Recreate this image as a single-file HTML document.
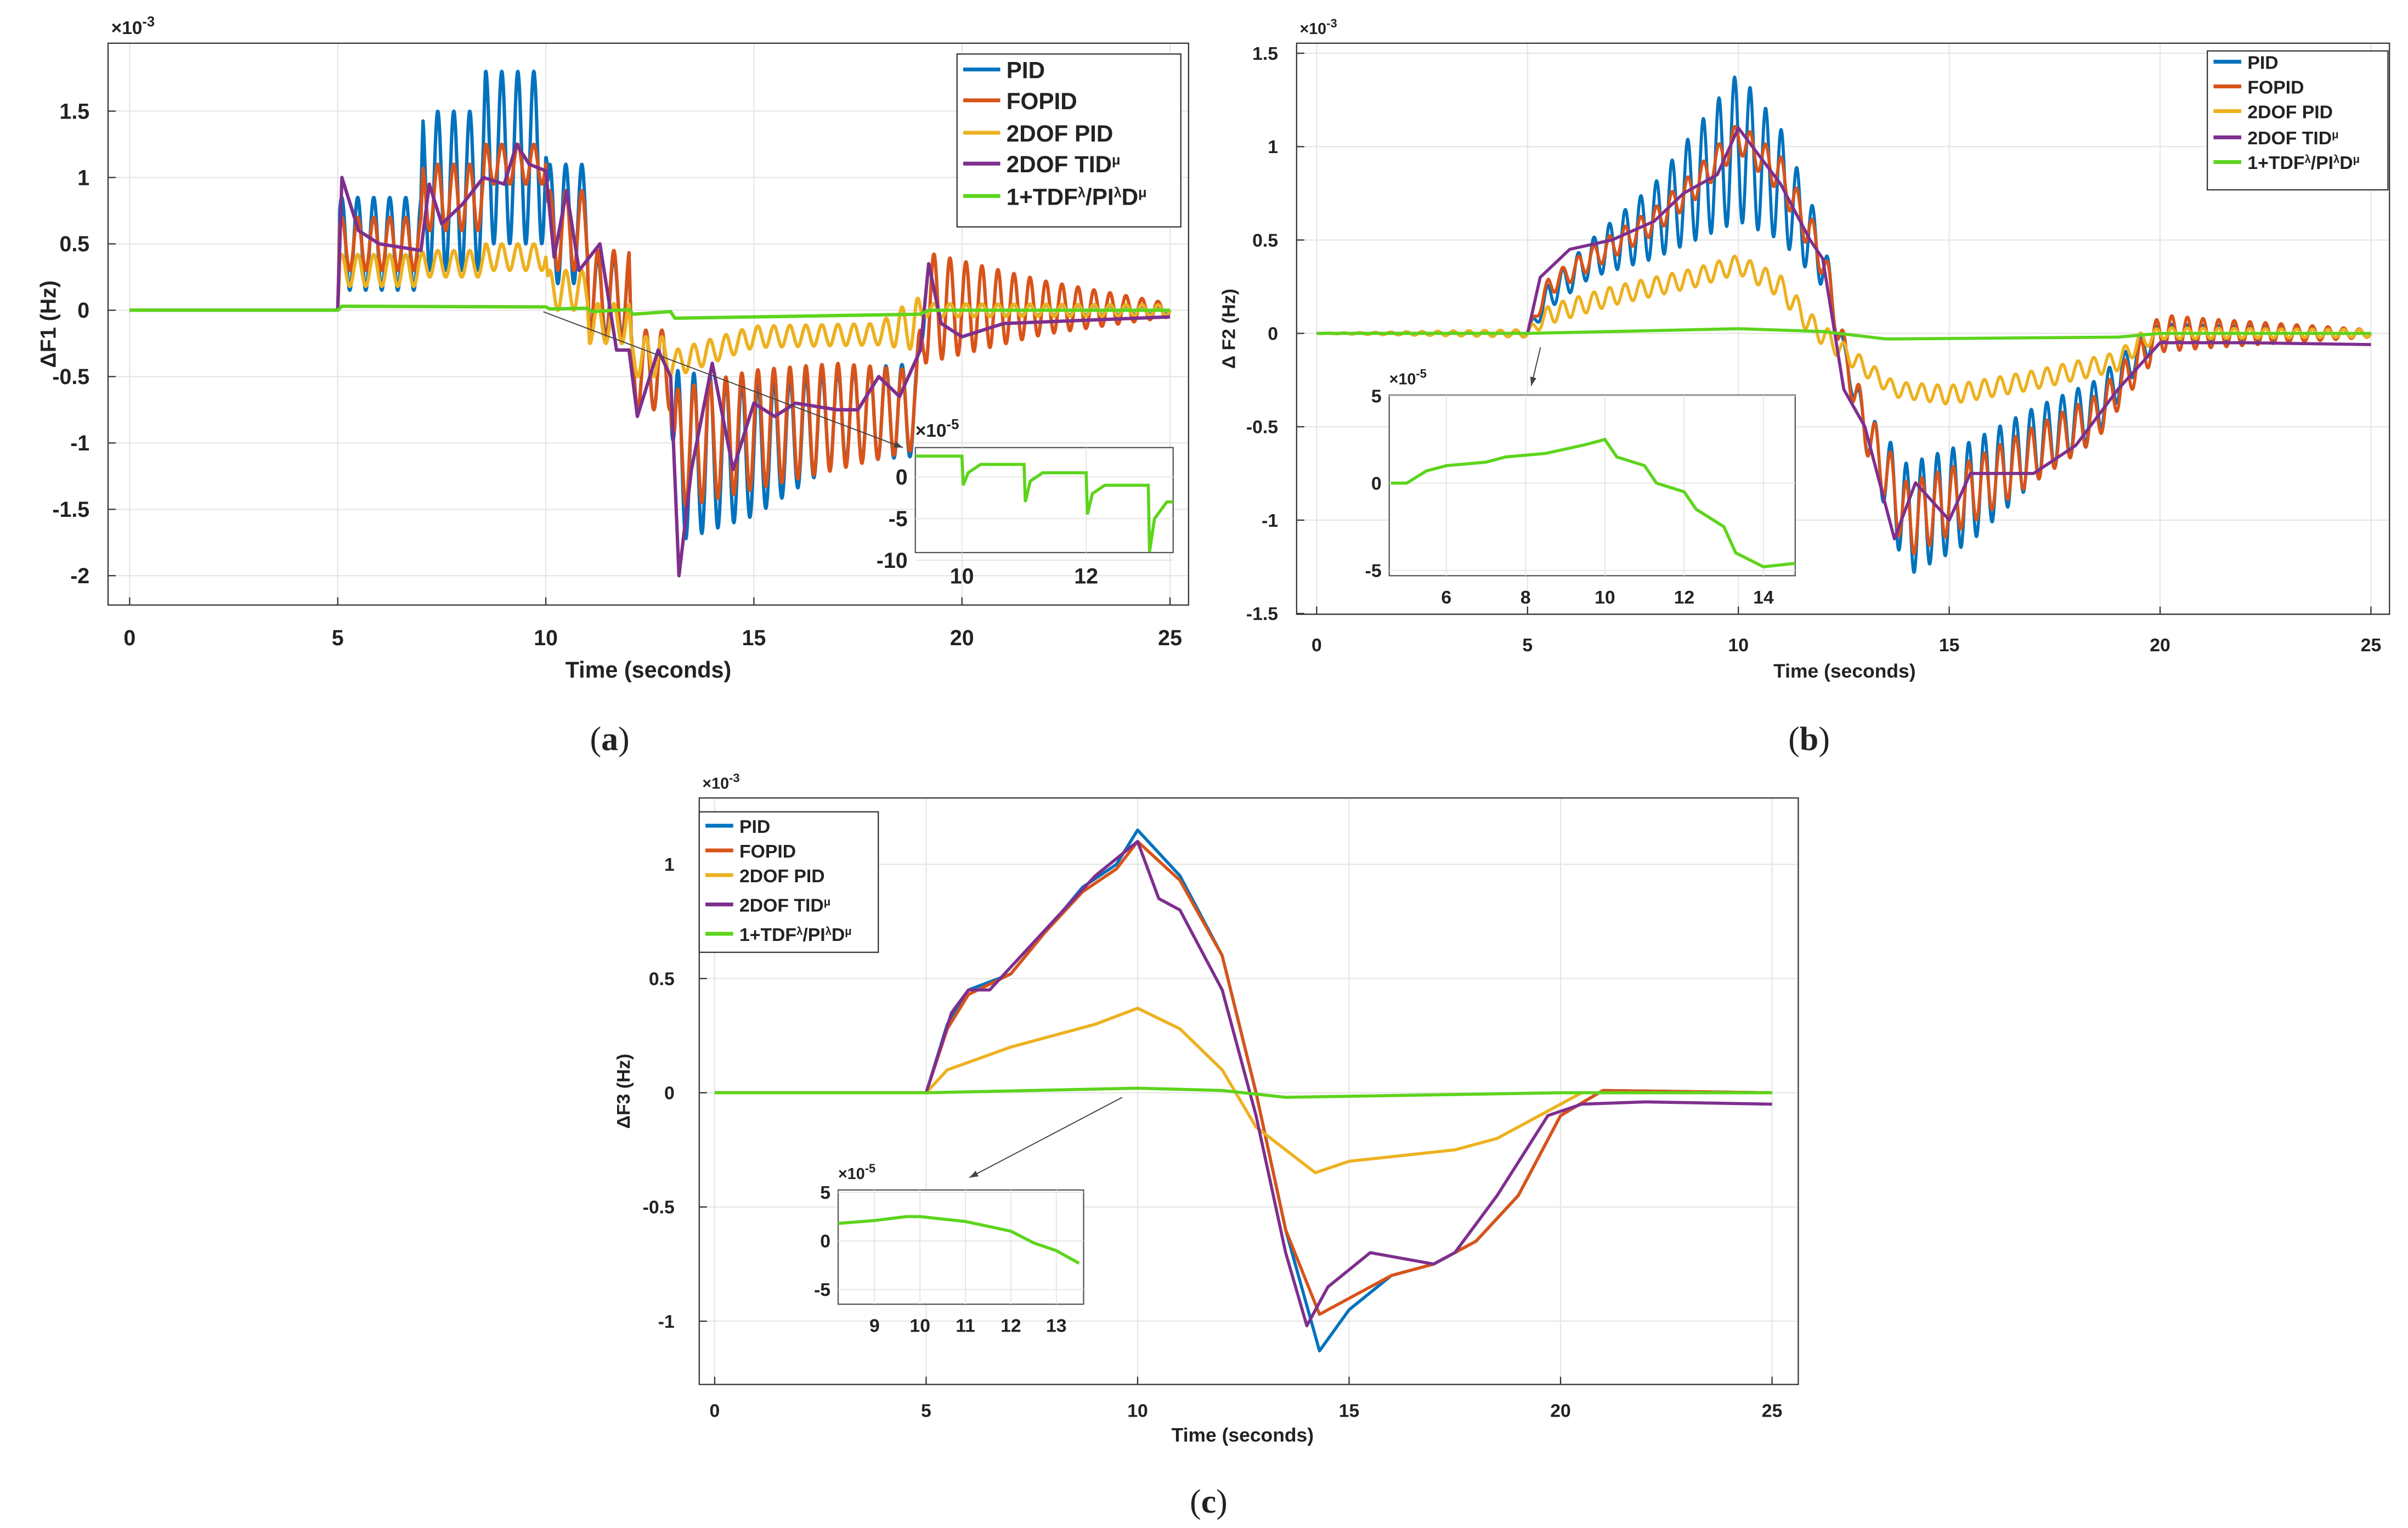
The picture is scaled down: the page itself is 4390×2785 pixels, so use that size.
<!DOCTYPE html>
<html><head><meta charset="utf-8"><style>
html,body{margin:0;padding:0;background:#fff}
svg{display:block}
text{font-family:"Liberation Sans","DejaVu Sans",sans-serif;font-weight:bold;fill:#222}
</style></head><body>
<svg id="fig" width="4390" height="2785" viewBox="0 0 1560 990" preserveAspectRatio="none" xmlns="http://www.w3.org/2000/svg"></svg>
<script>
// ---------------- DATA ----------------
const colors = {PID:'#0072BD',FOPID:'#D95319',DPID:'#EDB120',TID:'#7E2F8E',TDF:'#5DD41C'};
// Panel (a) values x1e-3 : [time], [base], [oscillation amplitude]
const aPID_t=[0,5,5.05,7,7.05,8.5,8.55,10,10.05,11,11.05,12,12.05,13,13.1,15,17,18.9,19.1,25];
const aPID_b=[0,0,0.5,0.5,0.9,0.9,1.15,1.15,0.65,0.65,0.1,0.1,-0.45,-0.45,-1.1,-1.05,-0.8,-0.75,0,0];
const aPID_a=[0,0,0.35,0.35,0.6,0.6,0.65,0.65,0.45,0.45,0.3,0.3,0.3,0.3,0.65,0.5,0.35,0.35,0.05,0.03];
const aFO_t=[0,5,5.05,7,7.05,8.5,8.55,10,10.05,11,11.05,12,12.05,13,13.1,15,17,18.9,19.1,22,25];
const aFO_b=[0,0,0.5,0.5,0.85,0.85,1.1,1.1,0.6,0.6,0.1,0.1,-0.45,-0.45,-1.05,-0.9,-0.8,-0.75,0.02,0.02,0];
const aFO_a=[0,0,0.2,0.2,0.25,0.25,0.15,0.15,0.3,0.3,0.35,0.35,0.3,0.3,0.45,0.45,0.4,0.3,0.42,0.2,0.05];
const aDP_t=[0,5,5.05,7,7.05,8.5,8.55,10,10.05,11,11.05,12,12.05,13,13.1,15,18,18.9,19.1,25];
const aDP_b=[0,0,0.3,0.3,0.35,0.35,0.4,0.4,0.15,0.15,-0.1,-0.1,-0.35,-0.35,-0.4,-0.2,-0.18,-0.1,0,0];
const aDP_a=[0,0,0.12,0.12,0.1,0.1,0.1,0.1,0.15,0.15,0.15,0.15,0.15,0.15,0.1,0.08,0.08,0.2,0.05,0.04];
const aTID_t=[0,5,5.1,5.5,6,7,7.2,7.5,8,8.5,9,9.3,9.6,10,10.2,10.5,10.8,11.3,11.7,12,12.2,12.7,13,13.2,13.5,14,14.5,15,15.5,16,17,17.5,18,18.5,19,19.2,19.5,20,21,25];
const aTID_v=[0,0,1.0,0.6,0.5,0.45,0.95,0.65,0.8,1.0,0.95,1.25,1.1,1.05,0.4,0.9,0.3,0.5,-0.3,-0.3,-0.8,-0.3,-0.5,-2.0,-1.2,-0.4,-1.2,-0.7,-0.8,-0.7,-0.75,-0.75,-0.5,-0.65,-0.3,0.35,-0.1,-0.2,-0.1,-0.05];
const aTDF_t=[0,5,5.1,10,10.1,11,11.1,12,12.1,13,13.1,19,19.2,25];
const aTDF_v=[0,0,0.03,0.025,0.01,0.015,-0.01,0.005,-0.03,-0.01,-0.06,-0.03,0,0];
// Panel (b)
const bPID_t=[0,5,5.5,6.5,8,9,10,11,12,12.5,13,14,15.5,17,18.5,19.5,20,25];
const bPID_b=[0,0,0.2,0.4,0.6,0.8,1.0,0.8,0.4,-0.1,-0.5,-1.0,-0.85,-0.6,-0.4,-0.1,0,0];
const bPID_a=[0,0.02,0.07,0.1,0.2,0.3,0.4,0.3,0.15,0.05,0.1,0.3,0.27,0.2,0.15,0.08,0.05,0.02];
const bFO_t=[0,5,5.5,6.5,8,9,10,11,12,12.5,13,14,15.5,17,18.5,19.5,20,21,25];
const bFO_b=[0,0,0.25,0.4,0.6,0.8,1.05,0.85,0.4,-0.1,-0.5,-1.0,-0.85,-0.65,-0.45,-0.15,0,0,0];
const bFO_a=[0,0.02,0.05,0.06,0.07,0.08,0.08,0.1,0.1,0.1,0.12,0.2,0.17,0.15,0.12,0.1,0.1,0.08,0.02];
const bDP_t=[0,5,5.5,7,9,10,11,11.7,12.5,13.7,15,17,19,19.5,20,25];
const bDP_b=[0,0,0.1,0.2,0.3,0.37,0.25,0.05,-0.1,-0.3,-0.33,-0.25,-0.15,-0.05,0,0];
const bDP_a=[0,0.02,0.05,0.05,0.05,0.05,0.06,0.06,0.05,0.04,0.05,0.05,0.05,0.05,0.03,0.02];
const bTID_t=[0,5,5.3,6,7,8,8.7,9.5,10,11,11.7,12,12.5,13,13.7,14.2,15,15.5,17,18,19,20,22,25];
const bTID_v=[0,0,0.3,0.45,0.5,0.6,0.75,0.85,1.1,0.8,0.5,0.4,-0.3,-0.5,-1.1,-0.8,-1.0,-0.75,-0.75,-0.6,-0.3,-0.05,-0.05,-0.06];
const bTDF_t=[0,5,10,12,13.5,19,20,25];
const bTDF_v=[0,0,0.025,0.01,-0.03,-0.02,0,0];
// Panel (c)
const cPID_t=[0,5,5.5,6,7,7.8,8.7,9.5,10,11,12,12.8,13.5,14.3,15,16,17,18,19,20,21,25];
const cPID_v=[0,0,0.3,0.45,0.52,0.7,0.9,1.0,1.15,0.95,0.6,0,-0.6,-1.13,-0.95,-0.8,-0.75,-0.65,-0.45,-0.1,0.01,0];
const cFO_t=[0,5,5.5,6,7,7.8,8.7,9.5,10,11,12,12.8,13.5,14.3,15,16,17,18,19,20,21,25];
const cFO_v=[0,0,0.28,0.43,0.52,0.7,0.88,0.98,1.1,0.93,0.6,0,-0.6,-0.97,-0.9,-0.8,-0.75,-0.65,-0.45,-0.1,0.01,0];
const cDP_t=[0,5,5.5,7,9,10,11,12,12.8,14.2,15,17.5,18.5,19.5,20.5,25];
const cDP_v=[0,0,0.1,0.2,0.3,0.37,0.28,0.1,-0.15,-0.35,-0.3,-0.25,-0.2,-0.1,0,0];
const cTID_t=[0,5,5.6,6,6.5,7,8,9,10,10.5,11,12,12.8,13.5,14,14.5,15.5,17,17.5,18.5,19.7,20.5,22,25];
const cTID_v=[0,0,0.35,0.45,0.45,0.55,0.75,0.95,1.1,0.85,0.8,0.45,-0.1,-0.7,-1.02,-0.85,-0.7,-0.75,-0.7,-0.45,-0.1,-0.05,-0.04,-0.05];
const cTDF_t=[0,5,10,12,13.5,20,25];
const cTDF_v=[0,0,0.02,0.01,-0.02,0,0];
// Insets (x1e-5)
const iaT=[9.25,10,10.02,10.1,10.3,11,11.02,11.1,11.3,12,12.02,12.1,12.3,13,13.02,13.1,13.3,13.4];
const iaV=[2.5,2.5,-1,0.5,1.5,1.5,-3,-0.5,0.5,0.5,-4.5,-2,-1,-1,-9,-5,-3,-3];
const ibT=[4.6,5,5.5,6,7,7.5,8.5,9.5,10,10.3,11,11.3,12,12.3,13,13.3,14,14.8];
const ibV=[0,0,0.7,1,1.2,1.5,1.7,2.2,2.5,1.5,1,0,-0.5,-1.5,-2.5,-4,-4.8,-4.6];
const icT=[8.2,9,9.7,10,11,12,12.5,13,13.5];
const icV=[1.8,2.1,2.5,2.5,2,1,-0.2,-1,-2.3];
const legendLabels=['PID','FOPID','2DOF PID','2DOF TID^μ','1+TDF^λ/PI^λD^μ'];
const xTicks=[0,5,10,15,20,25];
const aYTicks=[1.5,1,0.5,0,-0.5,-1,-1.5,-2];
const bYTicks=[1.5,1,0.5,0,-0.5,-1,-1.5];
const cYTicks=[1,0.5,0,-0.5,-1];

// ---------------- DRAW ----------------
const NS='http://www.w3.org/2000/svg';
const svg=document.getElementById('fig');
function el(tag,attrs,parent){const e=document.createElementNS(NS,tag);for(const k in attrs)e.setAttribute(k,attrs[k]);(parent||svg).appendChild(e);return e;}
function interp(T,V,t){if(t<=T[0])return V[0];for(let i=1;i<T.length;i++){if(t<=T[i]){const f=(t-T[i-1])/((T[i]-T[i-1])||1);return V[i-1]+f*(V[i]-V[i-1]);}}return V[V.length-1];}
function supHTML(lab,fs){return lab.replace(/\^(.)/g,(m,c)=>'<tspan baseline-shift="super" font-size="'+(fs*0.6)+'">'+c+'</tspan>');}
function makePanel(P){
  const g=el('g',{});
  
  
  const sx=t=>P.x0+(t-P.xmin)*(P.x1-P.x0)/(P.xmax-P.xmin);
  const sy=v=>P.y0-v*P.yu;
  xTicks.forEach(t=>{const l=el('line',{x1:sx(t),x2:sx(t),y1:P.top,y2:P.bot,stroke:'#e6e6e6','stroke-width':0.8},g);});
  P.yt.forEach(v=>{const l=el('line',{x1:P.left,x2:P.right,y1:sy(v),y2:sy(v),stroke:'#e6e6e6','stroke-width':0.8},g);});
  const box=el('rect',{x:P.left,y:P.top,width:P.right-P.left,height:P.bot-P.top,fill:'none',stroke:'#333','stroke-width':0.8},g);
  
  xTicks.forEach(t=>{const tx=el('text',{x:sx(t),y:P.xly,'font-size':P.fs,'text-anchor':'middle'},g);tx.textContent=t;
    el('line',{x1:sx(t),x2:sx(t),y1:P.bot,y2:P.bot-5,stroke:'#333','stroke-width':0.8},g);});
  P.yt.forEach(v=>{const tx=el('text',{x:P.yly,y:sy(v)+P.fs*0.35,'font-size':P.fs,'text-anchor':'end'},g);tx.textContent=v;
    el('line',{x1:P.left,x2:P.left+5,y1:sy(v),y2:sy(v),stroke:'#333','stroke-width':0.8},g);});
  const ex=el('text',{x:P.left+2,y:P.top-6,'font-size':P.fs*0.85},g);ex.innerHTML='×10<tspan baseline-shift="super" font-size="'+P.fs*0.65+'">-3</tspan>';
  
  const xl=el('text',{x:P.xlx,y:P.xlt,'font-size':P.fs*1.05,'text-anchor':'middle'},g);xl.textContent='Time (seconds)';
  
  const yl=el('text',{x:0,y:0,'font-size':P.fs*1.0,'text-anchor':'middle',transform:`translate(${P.ylx},${(P.top+P.bot)/2}) rotate(-90)`},g);yl.textContent=P.ylabel;
  
  const cap=el('text',{x:P.capx,y:P.capy,'font-size':22,'text-anchor':'middle',style:'font-family:"Liberation Serif",serif;font-weight:normal'},g);cap.innerHTML='(<tspan font-weight="bold">'+P.cap+'</tspan>)';
  
  const clip='clip-'+P.cap;
  const cp=el('clipPath',{id:clip},g);el('rect',{x:P.left,y:P.top,width:P.right-P.left,height:P.bot-P.top},cp);
  P.series.forEach(s=>{
    let d='';
    for(let t=0;t<=25.0001;t+=0.01){
      let v=interp(s.t,s.v,t);
      if(s.a){const A=interp(s.t,s.a,t);v+=A*Math.sin(2*Math.PI*P.freq*(t-5));}
      d+=(d?'L':'M')+sx(t).toFixed(2)+','+sy(v).toFixed(2);
    }
    const p=el('path',{d:d,fill:'none',stroke:s.c,'stroke-width':P.lw,'stroke-linejoin':'round','clip-path':`url(#${clip})`},g);
    
  });
  const L=P.leg;
  const lg=el('g',{},g);
  el('rect',{x:L.x,y:L.y,width:L.w,height:L.h,fill:'#fff',stroke:'#333','stroke-width':0.8},lg);
  const cs=[colors.PID,colors.FOPID,colors.DPID,colors.TID,colors.TDF];
  legendLabels.forEach((lab,i)=>{
    const yy=L.ys[i];
    const ln=el('line',{x1:L.x+4,x2:L.x+4+L.ll,y1:yy,y2:yy,stroke:cs[i],'stroke-width':2.5},lg);
    
    const tx=el('text',{x:L.x+8+L.ll,y:yy+L.fs*0.38,'font-size':L.fs},lg);tx.innerHTML=supHTML(lab,L.fs);
    
  });
  const I=P.inset;
  const ig=el('g',{},g);
  const ar=el('line',{x1:I.ax1,y1:I.ay1,x2:I.ax2,y2:I.ay2,stroke:'#444','stroke-width':0.7},ig);
  const ang=Math.atan2(I.ay2-I.ay1,I.ax2-I.ax1);
  el('path',{d:`M${I.ax2},${I.ay2}L${I.ax2-6*Math.cos(ang-0.35)},${I.ay2-6*Math.sin(ang-0.35)}L${I.ax2-6*Math.cos(ang+0.35)},${I.ay2-6*Math.sin(ang+0.35)}Z`,fill:'#444'},ig);
  el('rect',{x:I.l,y:I.t,width:I.r-I.l,height:I.b-I.t,fill:'#fff',stroke:'#555','stroke-width':0.8},ig);
  const isx=t=>I.l+(t-I.xmin)*(I.r-I.l)/(I.xmax-I.xmin);
  const isy=v=>I.y0-v*I.yu;
  I.xt.forEach(t=>{el('line',{x1:isx(t),x2:isx(t),y1:I.t,y2:I.b,stroke:'#e6e6e6','stroke-width':0.7},ig);
    const tx=el('text',{x:isx(t),y:I.b+I.fs+6,'font-size':I.fs,'text-anchor':'middle'},ig);tx.textContent=t;});
  I.yt.forEach(v=>{el('line',{x1:I.l,x2:I.r,y1:isy(v),y2:isy(v),stroke:'#e6e6e6','stroke-width':0.7},ig);
    const tx=el('text',{x:I.l-5,y:isy(v)+I.fs*0.35,'font-size':I.fs,'text-anchor':'end'},ig);tx.textContent=v;});
  const iex=el('text',{x:I.l,y:I.t-7,'font-size':I.fs*0.85},ig);iex.innerHTML='×10<tspan baseline-shift="super" font-size="'+I.fs*0.65+'">-5</tspan>';
  let d='';for(let i=0;i<I.T.length;i++)d+=(i?'L':'M')+isx(I.T[i]).toFixed(2)+','+isy(I.V[i]).toFixed(2);
  const ip=el('path',{d:d,fill:'none',stroke:colors.TDF,'stroke-width':2},ig);
}

makePanel({name:'panel-a',cap:'a',left:70,right:770,top:28,bot:392,x0:84,x1:758,xmin:0,xmax:25,y0:201,yu:86,yt:aYTicks,fs:14,lw:2.2,freq:2.6,
  xly:418,yly:58,xlx:420,xlt:439,ylx:36,ylabel:'ΔF1 (Hz)',capx:395,capy:486,
  series:[{n:'series-pid',c:colors.PID,t:aPID_t,v:aPID_b,a:aPID_a},{n:'series-fopid',c:colors.FOPID,t:aFO_t,v:aFO_b,a:aFO_a},
  {n:'series-2dof-pid',c:colors.DPID,t:aDP_t,v:aDP_b,a:aDP_a},{n:'series-2dof-tid',c:colors.TID,t:aTID_t,v:aTID_v},{n:'series-tdf',c:colors.TDF,t:aTDF_t,v:aTDF_v}],
  leg:{x:620,y:35,w:145,h:112,ll:24,fs:15,ys:[45,65,86,106,127]},
  inset:{l:593,r:760,t:290,b:358,xmin:9.25,xmax:13.4,y0:309,yu:5.4,xt:[10,12],yt:[0,-5,-10],fs:14,T:iaT,V:iaV,ax1:352,ay1:202,ax2:585,ay2:290}});
makePanel({name:'panel-b',cap:'b',left:840,right:1548,top:28,bot:398,x0:853,x1:1536,xmin:0,xmax:25,y0:216,yu:121,yt:bYTicks,fs:12,lw:2,freq:2.7,
  xly:422,yly:828,xlx:1195,xlt:439,ylx:800,ylabel:'Δ F2 (Hz)',capx:1172,capy:486,
  series:[{n:'series-pid',c:colors.PID,t:bPID_t,v:bPID_b,a:bPID_a},{n:'series-fopid',c:colors.FOPID,t:bFO_t,v:bFO_b,a:bFO_a},
  {n:'series-2dof-pid',c:colors.DPID,t:bDP_t,v:bDP_b,a:bDP_a},{n:'series-2dof-tid',c:colors.TID,t:bTID_t,v:bTID_v},{n:'series-tdf',c:colors.TDF,t:bTDF_t,v:bTDF_v}],
  leg:{x:1430,y:33,w:117,h:90,ll:18,fs:12,ys:[40,56,72,89,105]},
  inset:{l:900,r:1163,t:256,b:373,xmin:4.56,xmax:14.8,y0:313,yu:11.3,xt:[6,8,10,12,14],yt:[5,0,-5],fs:12,T:ibT,V:ibV,ax1:998,ay1:225,ax2:992,ay2:250}});
makePanel({name:'panel-c',cap:'c',left:453,right:1165,top:517,bot:897,x0:463,x1:1148,xmin:0,xmax:25,y0:708,yu:148,yt:cYTicks,fs:12,lw:2,freq:0,
  xly:918,yly:437,xlx:805,xlt:934,ylx:408,ylabel:'ΔF3 (Hz)',capx:783,capy:980,
  series:[{n:'series-pid',c:colors.PID,t:cPID_t,v:cPID_v},{n:'series-fopid',c:colors.FOPID,t:cFO_t,v:cFO_v},
  {n:'series-2dof-pid',c:colors.DPID,t:cDP_t,v:cDP_v},{n:'series-2dof-tid',c:colors.TID,t:cTID_t,v:cTID_v},{n:'series-tdf',c:colors.TDF,t:cTDF_t,v:cTDF_v}],
  leg:{x:453,y:526,w:116,h:91,ll:18,fs:12,ys:[535,551,567,586,605]},
  inset:{l:543,r:702,t:771,b:845,xmin:8.2,xmax:13.6,y0:804,yu:6.3,xt:[9,10,11,12,13],yt:[5,0,-5],fs:12,T:icT,V:icV,ax1:727,ay1:711,ax2:628,ay2:763}});
</script>
</body></html>
